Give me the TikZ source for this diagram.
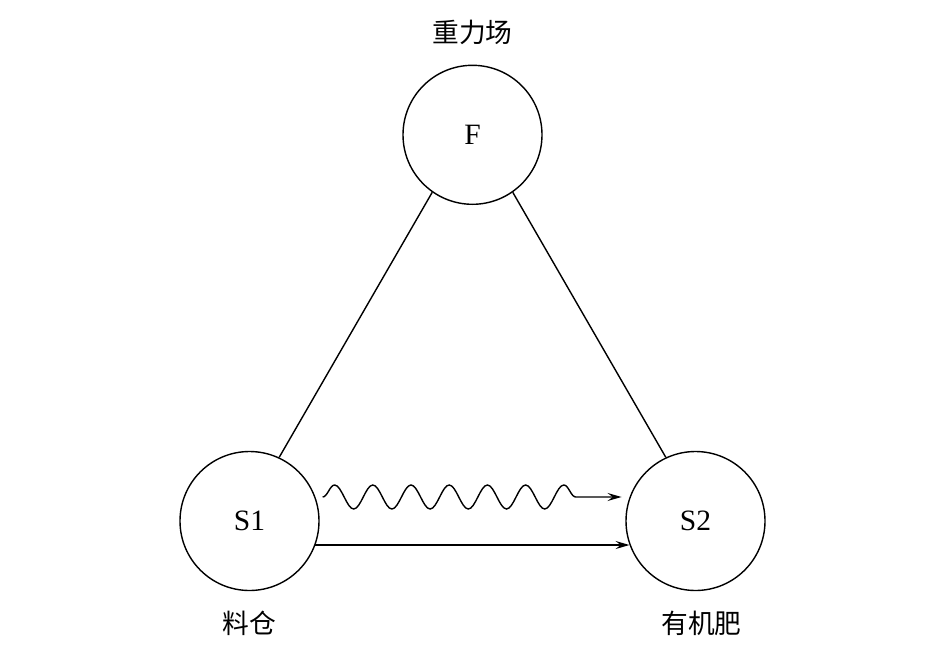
\documentclass[tikz,border=0pt]{standalone}
\usepackage{fontspec}
\setmainfont{Liberation Serif}
\newfontfamily\cjk{Noto Sans CJK SC}
\usetikzlibrary{positioning, arrows.meta, decorations.pathmorphing}

\begin{document}
\begin{tikzpicture}[
    font=\fontsize{21}{25}\selectfont,
    ball/.style={circle, draw=black, line width=1pt, minimum size=3.475cm, inner sep=0pt},
    tag/.style={font=\fontsize{19}{23}\selectfont\cjk},
    link/.style={line width=1pt},
    arrow/.style={line width=1pt, -{Stealth[length=3.5mm, width=2mm, inset=1.3mm]}},
    wave/.style={arrow, decorate, shorten >=0.2cm,
        decoration={snake, amplitude=0.3cm, segment length=0.955cm,
            pre=moveto, pre length=0.18cm, post=lineto, post length=1.3cm}},
]
    \useasboundingbox (-6.2375,-3.1) rectangle (17.3875,13.025);

    % The three fields
    \node[ball] (S1) {S1};
    \node[ball, right of=S1, xshift=10.15cm] (S2) {S2};
    \node[ball, above of=S1, xshift=5.575cm, yshift=8.655cm] (F) {F};

    % Names under and over the fields
    \node[tag, above of=F, yshift=1.56cm] (tF) {重力场};
    \node[tag, below of=S1, yshift=-1.55cm] (tS1) {料仓};
    \node[tag, below of=S2, xshift=0.15cm, yshift=-1.55cm] (tS2) {有机肥};

    % Sides of the triangle
    \draw[link] (F.235) -- (S1.65);
    \draw[link] (F.305) -- (S2.115);

    % Interactions from S1 to S2
    \draw[wave] (S1.20) -- (S2.160);
    \draw[arrow] (S1.-20) -- (S2.200);

\end{tikzpicture}
\end{document}
